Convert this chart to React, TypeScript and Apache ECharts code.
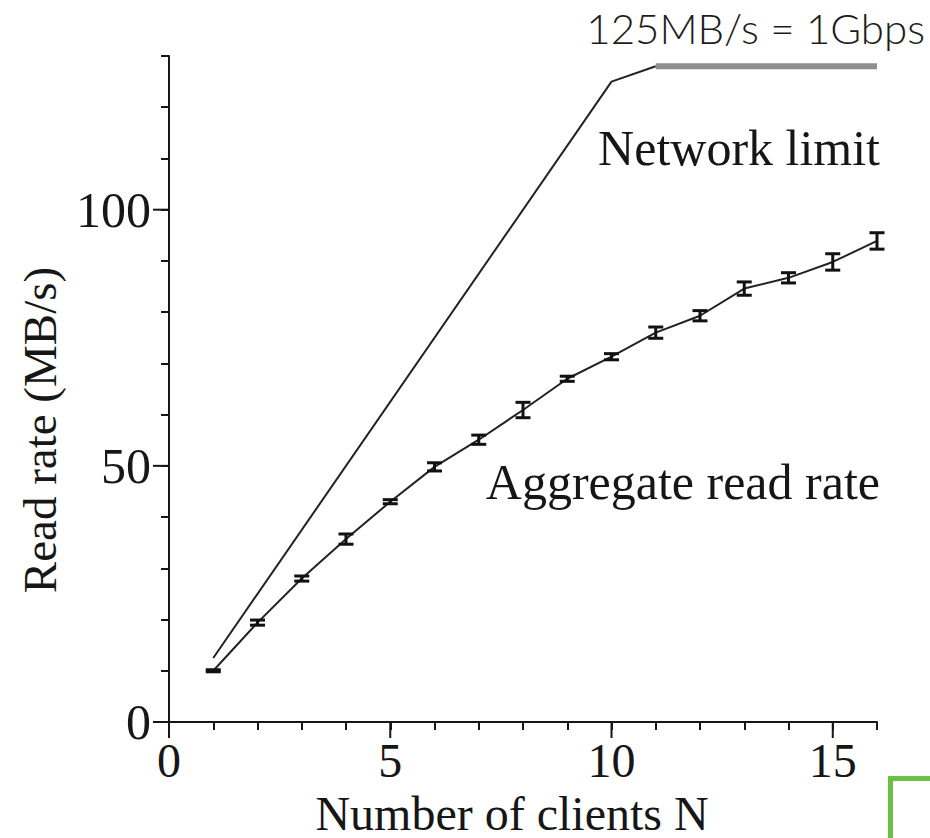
import React, { useEffect, useRef } from "react";
import * as echarts from "echarts";

const clients = [1, 2, 3, 4, 5, 6, 7, 8, 9, 10, 11, 12, 13, 14, 15, 16];
const aggregateRate = [10, 19.4, 28, 35.7, 43, 49.8, 55.1, 60.9, 67, 71.3, 76, 79.3, 84.6, 86.7, 89.8, 93.9];
const errorHalf = [0.2, 0.5, 0.5, 1.0, 0.4, 0.8, 0.9, 1.5, 0.5, 0.6, 1.1, 1.0, 1.3, 1.0, 1.6, 1.6];
const networkLimitN = [1, 10, 11];
const networkLimitRate = [12.5, 125, 128];
const linkCapN = [11, 16];
const linkCapRate = [128, 128];
const xMajorTicks = [0, 5, 10, 15];
const yMajorTicks = [0, 50, 100];

const SERIF = "'Liberation Serif', 'DejaVu Serif', serif";
const INK = "#161616";

export default function App() {
  const ref = useRef<HTMLDivElement>(null);
  useEffect(() => {
    if (!ref.current) return;
    const chart = echarts.init(ref.current, undefined, { renderer: "svg" });
    const axisLineStyle = { color: INK, width: 2 };
    const tickStyle = { stroke: INK, lineWidth: 2 };
    const option: any = {
      animation: false,
      backgroundColor: "#ffffff",
      grid: { left: 169, top: 56, width: 708, height: 666, containLabel: false },
      xAxis: {
        type: "value", min: 0, max: 16, interval: 1, position: "bottom",
        axisLine: { show: true, lineStyle: axisLineStyle },
        axisTick: { show: true, length: 8, lineStyle: { color: INK, width: 2 } },
        axisLabel: { show: true, customValues: xMajorTicks, margin: 14, fontFamily: SERIF, fontSize: 48, color: INK },
        splitLine: { show: false },
      },
      yAxis: {
        type: "value", min: 0, max: 130, interval: 10, position: "left",
        axisLine: { show: true, lineStyle: axisLineStyle },
        axisTick: { show: true, length: 8, lineStyle: { color: INK, width: 2 } },
        axisLabel: { show: true, customValues: yMajorTicks, margin: 18, fontFamily: SERIF, fontSize: 50, color: INK },
        splitLine: { show: false },
      },
      series: [
        {
          type: "line",
          data: networkLimitN.map((n, i) => [n, networkLimitRate[i]]),
          showSymbol: false, symbol: "none",
          lineStyle: { color: "#222", width: 2 },
          z: 2,
        },
        {
          type: "line",
          data: linkCapN.map((n, i) => [n, linkCapRate[i]]),
          showSymbol: false, symbol: "none",
          lineStyle: { color: "#8f8f8f", width: 6 },
          z: 3,
        },
        {
          type: "line",
          data: clients.map((n, i) => [n, aggregateRate[i]]),
          showSymbol: false, symbol: "none",
          lineStyle: { color: "#222", width: 2 },
          z: 2,
        },
        {
          type: "custom",
          data: clients.map((n, i) => [n, aggregateRate[i] - errorHalf[i], aggregateRate[i] + errorHalf[i]]),
          renderItem: (params: any, api: any) => {
            const n = api.value(0);
            const lo = api.coord([n, api.value(1)]);
            const hi = api.coord([n, api.value(2)]);
            const half = 7.5;
            const st = { stroke: "#111", lineWidth: 3, fill: "none" };
            return {
              type: "group",
              children: [
                { type: "line", shape: { x1: lo[0], y1: lo[1], x2: hi[0], y2: hi[1] }, style: st },
                { type: "line", shape: { x1: lo[0] - half, y1: lo[1], x2: lo[0] + half, y2: lo[1] }, style: st },
                { type: "line", shape: { x1: hi[0] - half, y1: hi[1], x2: hi[0] + half, y2: hi[1] }, style: st },
              ],
            };
          },
          z: 4,
        },
      ],
      graphic: [
        {
          type: "text", x: 880, y: 148,
          style: { text: "Network limit", fontFamily: SERIF, fontSize: 50, fill: INK, textAlign: "right", textVerticalAlign: "middle" },
        },
        {
          type: "text", x: 880, y: 482,
          style: { text: "Aggregate read rate", fontFamily: SERIF, fontSize: 50, fill: INK, textAlign: "right", textVerticalAlign: "middle" },
        },
        {
          type: "text", x: 512, y: 813,
          style: { text: "Number of clients N", fontFamily: SERIF, fontSize: 48, fill: INK, textAlign: "center", textVerticalAlign: "middle" },
        },
        {
          type: "text", x: 40, y: 430, rotation: Math.PI / 2,
          style: { text: "Read rate (MB/s)", fontFamily: SERIF, fontSize: 47, fill: INK, textAlign: "center", textVerticalAlign: "middle" },
        },
        {
          type: "text", x: 925, y: 28,
          style: { text: "125MB/s = 1Gbps", fontFamily: "Lato, Roboto, sans-serif", fontWeight: 300, fontSize: 42, fill: "#1c1c1c", textAlign: "right", textVerticalAlign: "middle" },
        },
        {
          type: "polyline",
          shape: { points: [[890.5, 840], [890.5, 778.5], [932, 778.5]] },
          style: { stroke: "#6cbf45", lineWidth: 5, fill: "none" },
        },
      ],
    };
    chart.setOption(option);

    // Longer major ticks, positioned through the chart's own scales
    const majorTicks: any[] = [];
    xMajorTicks.forEach((v) => {
      const p = chart.convertToPixel({ gridIndex: 0 }, [v, 0]) as number[];
      majorTicks.push({ type: "line", z: 10, shape: { x1: p[0], y1: p[1], x2: p[0], y2: p[1] + 16 }, style: tickStyle });
    });
    yMajorTicks.forEach((v) => {
      const p = chart.convertToPixel({ gridIndex: 0 }, [0, v]) as number[];
      majorTicks.push({ type: "line", z: 10, shape: { x1: p[0] - 16, y1: p[1], x2: p[0], y2: p[1] }, style: tickStyle });
    });
    chart.setOption({ graphic: [...option.graphic, ...majorTicks] }, { replaceMerge: ["graphic"] });

    return () => chart.dispose();
  }, []);
  return (
    <div
      ref={ref}
      style={{ position: "fixed", left: 0, top: 0, width: 930, height: 838, background: "#fff" }}
    />
  );
}
